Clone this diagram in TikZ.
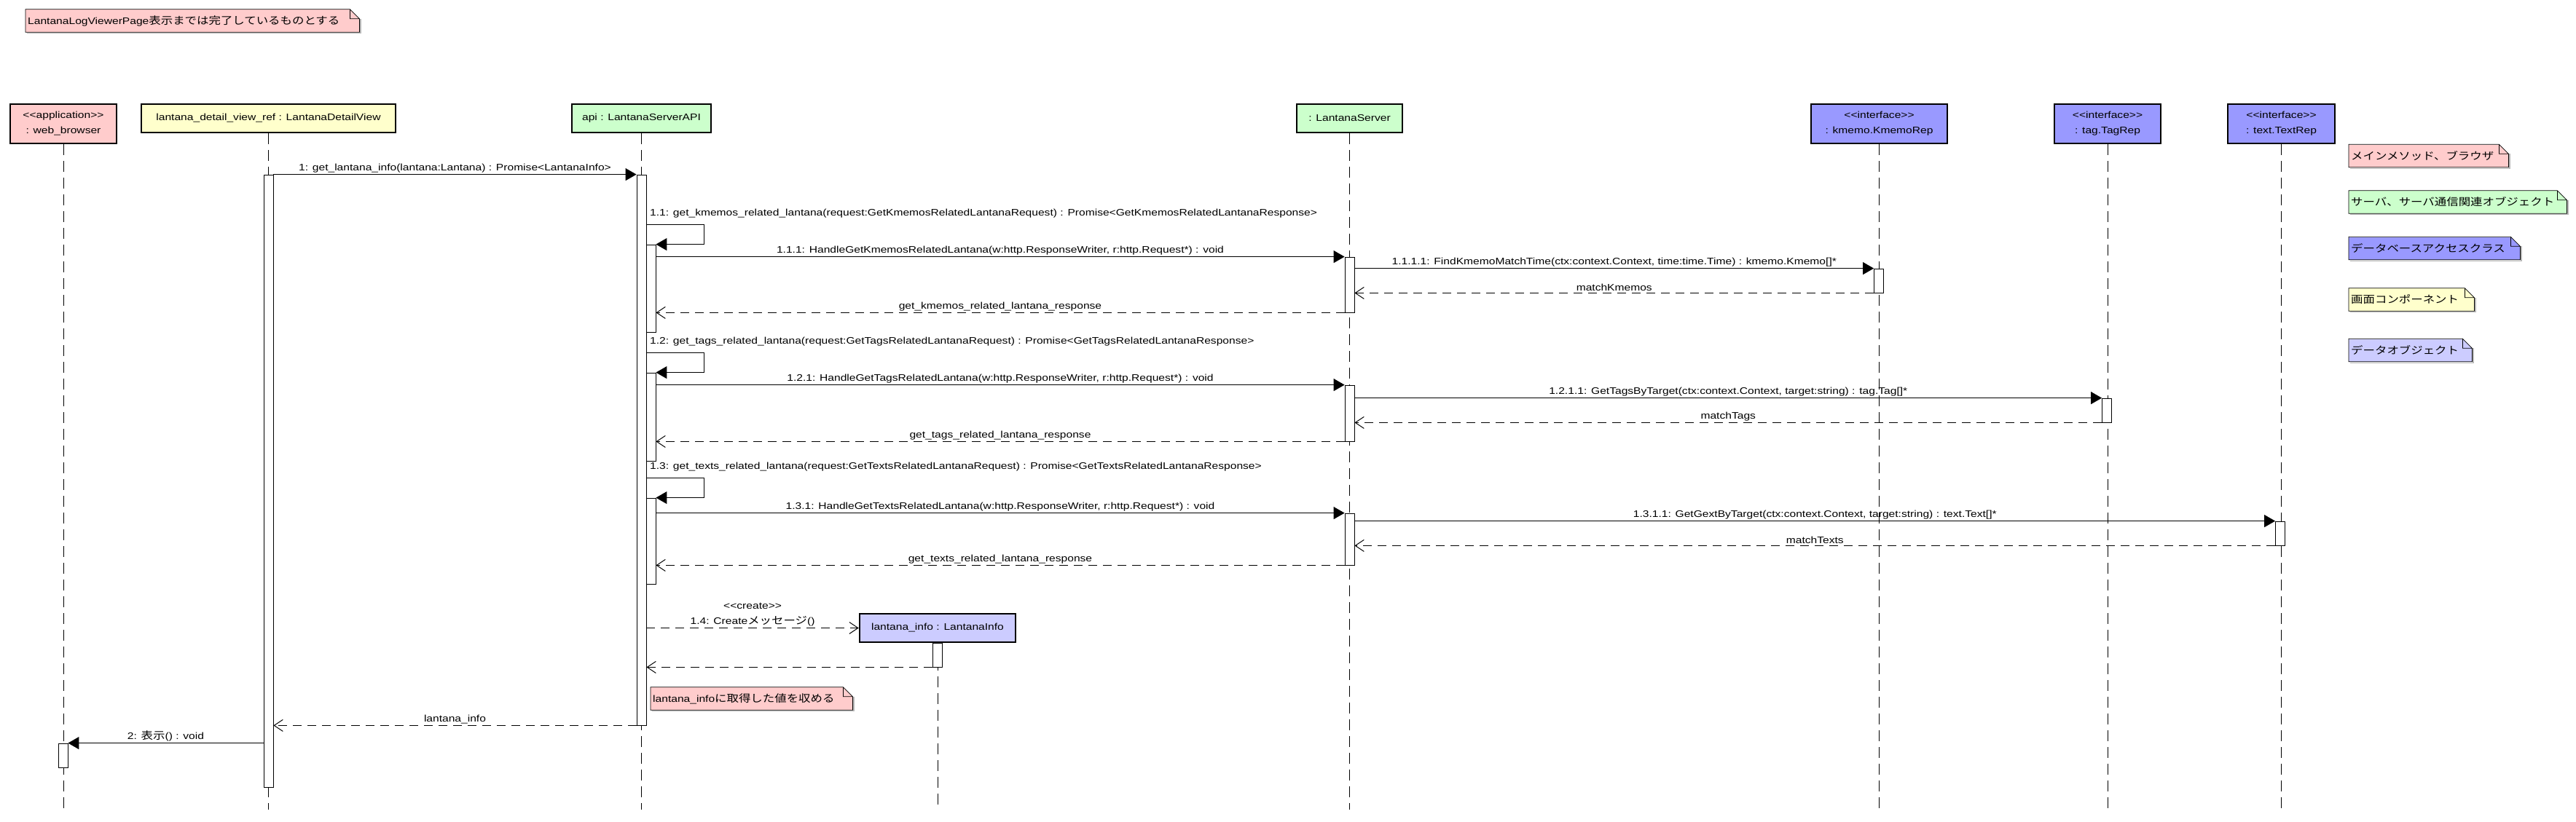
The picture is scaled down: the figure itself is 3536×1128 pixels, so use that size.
\documentclass[tikz,border=0pt]{standalone}
\usepackage{fontspec}
\newfontfamily\lsans{Liberation Sans}[FakeStretch=1.2]
\newfontfamily\jp{Noto Sans CJK JP}[Scale=1.08,FakeStretch=1.17]
\usetikzlibrary{arrows.meta}
\definecolor{mainpink}{HTML}{FFCCCC}
\definecolor{screenyellow}{HTML}{FFFFCC}
\definecolor{servergreen}{HTML}{CCFFCC}
\definecolor{dbblue}{HTML}{9999FF}
\definecolor{datablue}{HTML}{CCCCFF}
\newcommand{\stereoL}{<\kern0pt<}
\newcommand{\stereoR}{>\kern0pt>}

\begin{document}
\begin{tikzpicture}[x=1pt,y=-1pt,
        font=\lsans\fontsize{13pt}{16pt}\selectfont,
        obj/.style={draw,line width=2.5pt,fill=#1,align=center,inner sep=2pt,
            font=\lsans\fontsize{13pt}{21pt}\selectfont},
        act/.style={draw,fill=white,line width=0.8pt,minimum width=13pt,inner sep=0pt},
        lifeline/.style={line width=0.9pt,dash pattern=on 15pt off 8pt},
        sync/.style={line width=1pt,-{Triangle[length=15pt,width=17pt]}},
        reply/.style={line width=1pt,dash pattern=on 12pt off 8pt,
            -{Straight Barb[length=12pt,width=16pt]}},
        lbl/.style={above,inner sep=2pt},
        slbl/.style={anchor=south west,inner sep=2pt,xshift=3pt,yshift=7pt},
        note/.style={fill=#1,anchor=west,inner sep=3pt,minimum height=31pt,align=left}]
        \useasboundingbox (0,0) rectangle (3536,1128);

        % lifeline heads
        \node[obj=mainpink,minimum width=146pt,minimum height=54pt] (wb) at (87,170) {\stereoL application\stereoR\\: web\_browser};
        \node[obj=screenyellow,minimum width=349pt,minimum height=39pt] (view) at (368.5,162.5) {lantana\_detail\_view\_ref : LantanaDetailView};
        \node[obj=servergreen,minimum width=191pt,minimum height=39pt] (api) at (880.5,162.5) {api : LantanaServerAPI};
        \node[obj=servergreen,minimum width=145pt,minimum height=39pt] (srv) at (1852.5,162.5) {: LantanaServer};
        \node[obj=dbblue,minimum width=187pt,minimum height=54pt] (km) at (2579.5,170) {\stereoL interface\stereoR\\: kmemo.KmemoRep};
        \node[obj=dbblue,minimum width=146pt,minimum height=54pt] (tag) at (2893,170) {\stereoL interface\stereoR\\: tag.TagRep};
        \node[obj=dbblue,minimum width=147pt,minimum height=54pt] (txt) at (3131.5,170) {\stereoL interface\stereoR\\: text.TextRep};
        \node[obj=datablue,minimum width=214pt,minimum height=39pt] (info) at (1287,862.5) {lantana\_info : LantanaInfo};

        \foreach \o in {wb,view,api,srv,km,tag,txt,info}
            \draw[lifeline] (\o.south) -- (\o.south |- 0,1112);

        % activations
        \node[act,minimum height=841pt] (aView) at (368.5,660.5) {};
        \node[act,minimum height=756pt] (aApi) at (880.5,618) {};
        \node[act,minimum height=120pt] (aN1) at (893.5,396) {};
        \node[act,minimum height=121pt] (aN2) at (893.5,572.5) {};
        \node[act,minimum height=118pt] (aN3) at (893.5,743) {};
        \node[act,minimum height=76pt] (aS1) at (1852.5,391) {};
        \node[act,minimum height=77pt] (aS2) at (1852.5,567.5) {};
        \node[act,minimum height=71pt] (aS3) at (1852.5,740.5) {};
        \node[act,minimum height=33pt] (aKm) at (2579,385.5) {};
        \node[act,minimum height=33pt] (aTag) at (2892,563.5) {};
        \node[act,minimum height=33pt] (aTxt) at (3130,732.5) {};
        \node[act,minimum height=33pt] (aInfo) at (1287,899.5) {};
        \node[act,minimum height=33pt] (aWb) at (86.5,1037.5) {};

        % self calls
        \draw[sync] ([yshift=27pt]aN1.north west) node[slbl] {1.1: get\_kmemos\_related\_lantana(request:GetKmemosRelatedLantanaRequest) : Promise<GetKmemosRelatedLantanaResponse>} -- ++(80,0) |- (aN1.north east);
        \draw[sync] ([yshift=27pt]aN2.north west) node[slbl] {1.2: get\_tags\_related\_lantana(request:GetTagsRelatedLantanaRequest) : Promise<GetTagsRelatedLantanaResponse>} -- ++(80,0) |- (aN2.north east);
        \draw[sync] ([yshift=27pt]aN3.north west) node[slbl] {1.3: get\_texts\_related\_lantana(request:GetTextsRelatedLantanaRequest) : Promise<GetTextsRelatedLantanaResponse>} -- ++(80,0) |- (aN3.north east);

        % messages
        \path
        (aView.east |- aApi.north) edge[sync] node[lbl] {1: get\_lantana\_info(lantana:Lantana) : Promise<LantanaInfo>} (aApi.north west)
        (aN1.east |- aS1.north) edge[sync] node[lbl] {1.1.1: HandleGetKmemosRelatedLantana(w:http.ResponseWriter, r:http.Request*) : void} (aS1.north west)
        (aS1.east |- aKm.north) edge[sync] node[lbl] {1.1.1.1: FindKmemoMatchTime(ctx:context.Context, time:time.Time) : kmemo.Kmemo[]*} (aKm.north west)
        (aKm.south west) edge[reply] node[lbl] {matchKmemos} (aS1.east |- aKm.south)
        (aS1.south west) edge[reply] node[lbl] {get\_kmemos\_related\_lantana\_response} (aN1.east |- aS1.south)
        (aN2.east |- aS2.north) edge[sync] node[lbl] {1.2.1: HandleGetTagsRelatedLantana(w:http.ResponseWriter, r:http.Request*) : void} (aS2.north west)
        (aS2.east |- aTag.north) edge[sync] node[lbl] {1.2.1.1: GetTagsByTarget(ctx:context.Context, target:string) : tag.Tag[]*} (aTag.north west)
        (aTag.south west) edge[reply] node[lbl] {matchTags} (aS2.east |- aTag.south)
        (aS2.south west) edge[reply] node[lbl] {get\_tags\_related\_lantana\_response} (aN2.east |- aS2.south)
        (aN3.east |- aS3.north) edge[sync] node[lbl] {1.3.1: HandleGetTextsRelatedLantana(w:http.ResponseWriter, r:http.Request*) : void} (aS3.north west)
        (aS3.east |- aTxt.north) edge[sync] node[lbl] {1.3.1.1: GetGextByTarget(ctx:context.Context, target:string) : text.Text[]*} (aTxt.north west)
        (aTxt.south west) edge[reply] node[lbl] {matchTexts} (aS3.east |- aTxt.south)
        (aS3.south west) edge[reply] node[lbl] {get\_texts\_related\_lantana\_response} (aN3.east |- aS3.south)
        (aApi.east |- info.west) edge[reply] node[lbl,align=center,font=\lsans\fontsize{13pt}{21pt}\selectfont] {\stereoL create\stereoR\\1.4: Create{\jp メッセージ}()} (info.west)
        (aInfo.south west) edge[reply] (aApi.east |- aInfo.south)
        (aApi.south west) edge[reply] node[lbl] {lantana\_info} (aView.east |- aApi.south)
        (aView.west |- aWb.north) edge[sync] node[lbl] {2: {\jp 表示}() : void} (aWb.north east)
        ;

        % notes
        \node[note=mainpink,text width=452pt] (top) at (35,28.5) {LantanaLogViewerPage{\jp 表示までは完了しているものとする}};
        \node[note=mainpink,text width=271pt] (memo) at (893,959.5) {lantana\_info{\jp に取得した値を収める}};
        \node[note=mainpink,text width=213pt] (lg1) at (3224,214) {\jp メインメソッド、ブラウザ};
        \node[note=servergreen,text width=293pt] (lg2) at (3224,277.5) {\jp サーバ、サーバ通信関連オブジェクト};
        \node[note=dbblue,text width=229pt] (lg3) at (3224,341) {\jp データベースアクセスクラス};
        \node[note=screenyellow,text width=166pt] (lg4) at (3224,411.5) {\jp 画面コンポーネント};
        \node[note=datablue,text width=163pt] (lg5) at (3224,481) {\jp データオブジェクト};
        \foreach \n in {top,memo,lg1,lg2,lg3,lg4,lg5} {
            \fill[white] ([xshift=-13pt]\n.north east) -- (\n.north east) -- ([yshift=-13pt]\n.north east) -- cycle;
            \draw[gray!55,line width=1.2pt] ([shift={(1.5pt,-13pt)}]\n.north east) -- ([shift={(1.5pt,-1.5pt)}]\n.south east) -- ([shift={(1.5pt,-1.5pt)}]\n.south west);
            \draw[line width=0.8pt] (\n.north west) -- ([xshift=-13pt]\n.north east) -- ([yshift=-13pt]\n.north east) -- (\n.south east) -- (\n.south west) -- cycle
                ([xshift=-13pt]\n.north east) |- ([yshift=-13pt]\n.north east);
        }
\end{tikzpicture}
\end{document}
